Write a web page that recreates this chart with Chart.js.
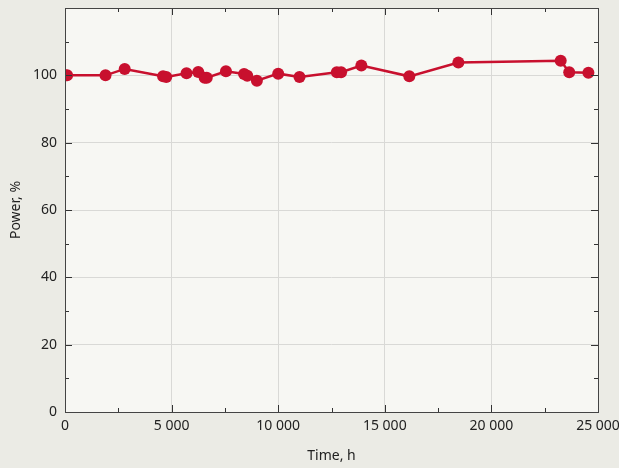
<!DOCTYPE html>
<html>
<head>
<meta charset="utf-8">
<script src="https://cdn.jsdelivr.net/npm/chart.js@4.4.0/dist/chart.umd.min.js"></script>
<style>
  html, body { margin: 0; padding: 0; background: #ebebe5; }
  #wrap { width: 619px; height: 468px; }
</style>
</head>
<body>
<div id="wrap"><canvas id="powerChart"></canvas></div>
<script>
// Données
const timeHours = [0, 100, 1900, 2800, 4600, 4750, 5700, 6250, 6550, 6650, 7550, 8400, 8550, 9000, 10000, 11000, 12750, 12950, 13900, 16150, 18450, 23250, 23650, 24550];
const powerPct = [100, 100, 100, 101.9, 99.7, 99.5, 100.6, 101, 99.3, 99.3, 101.2, 100.4, 99.9, 98.4, 100.5, 99.5, 100.9, 100.9, 102.9, 99.7, 103.8, 104.3, 100.9, 100.8];
const xTicks = [0, 5000, 10000, 15000, 20000, 25000];
const yTicks = [0, 20, 40, 60, 80, 100];

const points = timeHours.map((t, i) => ({ x: t, y: powerPct[i] }));

// fond de la zone de tracé + cadre + graduations intérieures
const frame = {
    id: 'frame',
    beforeDraw(chart) {
        const { ctx, chartArea: a } = chart;
        ctx.save();
        ctx.fillStyle = '#ebebe5';
        ctx.fillRect(0, 0, chart.width, chart.height);
        ctx.fillStyle = '#f7f7f3';
        ctx.fillRect(a.left, a.top, a.right - a.left, a.bottom - a.top);
        ctx.restore();
    },
    afterDatasetsDraw(chart) {
        const { ctx, chartArea: a, scales } = chart;
        ctx.save();
        ctx.strokeStyle = '#333';
        ctx.lineWidth = 1;
        ctx.beginPath();
        for (let v = 0; v <= 25000; v += 2500) {
            const x = Math.round(scales.x.getPixelForValue(v)) + 0.5;
            const len = v % 5000 === 0 ? 7 : 4;
            ctx.moveTo(x, a.bottom); ctx.lineTo(x, a.bottom - len);
            ctx.moveTo(x, a.top); ctx.lineTo(x, a.top + len);
        }
        for (let v = 0; v <= 120; v += 10) {
            const y = Math.round(scales.y.getPixelForValue(v)) + 0.5;
            const len = v % 20 === 0 ? 7 : 4;
            ctx.moveTo(a.left, y); ctx.lineTo(a.left + len, y);
            ctx.moveTo(a.right, y); ctx.lineTo(a.right - len, y);
        }
        ctx.stroke();
        ctx.strokeStyle = '#444';
        ctx.strokeRect(Math.round(a.left) + 0.5, Math.round(a.top) + 0.5,
            Math.round(a.right - a.left), Math.round(a.bottom - a.top));
        ctx.restore();
    }
};

const fmt = v => String(v).replace(/\B(?=(\d{3})+(?!\d))/g, ' ');

new Chart(document.getElementById('powerChart'), {
    type: 'line',
    data: {
        datasets: [{
            label: 'Power',
            data: points,
            borderColor: '#c8102e',
            backgroundColor: '#c8102e',
            borderWidth: 2.5,
            pointRadius: 6,
            pointBorderWidth: 0,
            pointHoverRadius: 6,
            tension: 0
        }]
    },
    options: {
        responsive: true,
        maintainAspectRatio: false,
        animation: false,
        layout: { padding: { top: 8, right: 21, left: 0, bottom: 0 } },
        plugins: {
            legend: { display: false },
            tooltip: { enabled: false }
        },
        scales: {
            x: {
                type: 'linear',
                min: 0,
                max: 25000,
                afterBuildTicks: s => { s.ticks = xTicks.map(v => ({ value: v })); },
                afterFit: s => { s.height = 56; s.paddingLeft = 0; s.paddingRight = 0; },
                border: { display: false },
                grid: { color: '#d9d9d6', drawTicks: false },
                ticks: {
                    padding: 6,
                    color: '#222',
                    font: { family: 'Noto Sans', size: 14 },
                    callback: v => fmt(v),
                    maxRotation: 0
                },
                title: {
                    display: true,
                    text: 'Time, h',
                    color: '#222',
                    font: { family: 'Noto Sans', size: 14 },
                    padding: { top: 4, bottom: 4 }
                }
            },
            y: {
                min: 0,
                max: 120,
                afterBuildTicks: s => { s.ticks = yTicks.map(v => ({ value: v })); },
                afterFit: s => { s.width = 65; s.paddingTop = 0; s.paddingBottom = 0; },
                border: { display: false },
                grid: { color: '#d9d9d6', drawTicks: false },
                ticks: {
                    padding: 8,
                    color: '#222',
                    font: { family: 'Noto Sans', size: 14 }
                },
                title: {
                    display: true,
                    text: 'Power, %',
                    color: '#222',
                    font: { family: 'Noto Sans', size: 14 },
                    padding: { top: 8, bottom: 4 }
                }
            }
        }
    },
    plugins: [frame]
});
</script>
</body>
</html>
